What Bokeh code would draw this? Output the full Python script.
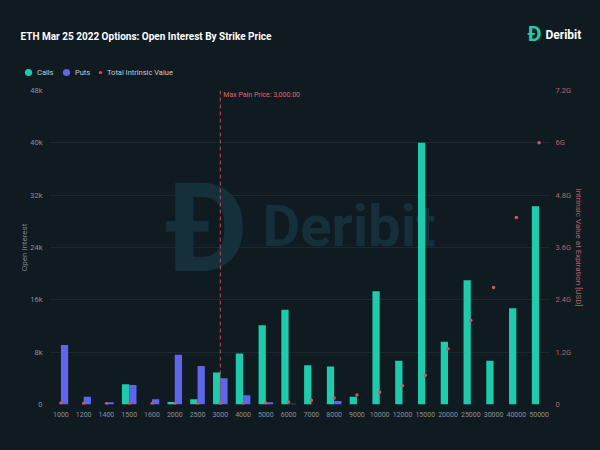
from bokeh.plotting import figure
from bokeh.layouts import column
from bokeh.models import (ColumnDataSource, Range1d, LinearAxis, FixedTicker, Span,
                          Label, Legend, LegendItem, FactorRange)
from bokeh.transform import dodge
from bokeh.embed import file_html
from bokeh.resources import INLINE

# ---------------- data ----------------
strikes = ["1000", "1200", "1400", "1500", "1600", "2000", "2500", "3000", "4000", "5000", "6000",
           "7000", "8000", "9000", "10000", "12000", "15000", "20000", "25000", "30000", "40000", "50000"]
calls = [0, 0, 0, 3100, 0, 400, 800, 4900, 7800, 12100, 14500,
         6000, 5800, 1200, 17300, 6700, 40000, 9600, 19000, 6700, 14700, 30300]
puts = [9100, 1200, 350, 3000, 800, 7600, 5900, 4000, 1400, 350, 100,
        0, 550, 0, 0, 0, 0, 0, 0, 0, 0, 0]
intrinsic_g = [0.033, 0.025, 0.02, 0.018, 0.016, 0.012, 0.01, 0.01, 0.02, 0.035, 0.06,
               0.1, 0.15, 0.22, 0.28, 0.43, 0.67, 1.28, 1.93, 2.68, 4.29, 6.0]
max_pain = "3000"
left_ticks = [0, 8000, 16000, 24000, 32000, 40000, 48000]
left_tick_labels = ["0", "8k", "16k", "24k", "32k", "40k", "48k"]
right_ticks = [0, 1.2e9, 2.4e9, 3.6e9, 4.8e9, 6.0e9, 7.2e9]
right_tick_labels = ["0", "1.2G", "2.4G", "3.6G", "4.8G", "6G", "7.2G"]

# ---------------- style ----------------
BG = "#0f1a21"
CALL = "#1fcbad"
PUT = "#5f66ea"
RED = "#d9535d"
GRID = "#1a2831"
TICK = "#8a9399"
RTICK = "#b8646b"
FONT = "Roboto"
NAN = float("nan")

src = ColumnDataSource(dict(strike=strikes, calls=calls, puts=puts,
                            iv=[v * 1e9 for v in intrinsic_g]))

# ---------------- header (title, legend, logo) ----------------
h = figure(width=600, height=82, x_range=Range1d(0, 600), y_range=Range1d(0, 82),
           output_backend="svg", toolbar_location=None, x_axis_type=None, y_axis_type=None,
           background_fill_color=BG, border_fill_color=BG, outline_line_color=None,
           min_border=0, frame_align=False)
h.grid.visible = False
h.add_layout(Label(x=20, y=46, x_units="screen", y_units="screen",
                   text="ETH Mar 25 2022 Options: Open Interest By Strike Price",
                   text_font=FONT, text_font_style="bold", text_font_size="10px",
                   text_color="#ffffff", text_baseline="middle"))
h.add_layout(Label(x=527, y=49, x_units="screen", y_units="screen", text="Ð",
                   text_font=FONT, text_font_style="bold", text_font_size="21px",
                   text_color=CALL, text_baseline="middle"))
h.add_layout(Label(x=545, y=48, x_units="screen", y_units="screen", text="Deribit",
                   text_font=FONT, text_font_style="bold", text_font_size="12px",
                   text_color="#ffffff", text_baseline="middle"))

lc = h.scatter(x=[NAN], y=[NAN], marker="circle", color=CALL, line_color=None)
lp = h.scatter(x=[NAN], y=[NAN], marker="circle", color=PUT, line_color=None)
li = h.scatter(x=[NAN], y=[NAN], marker="circle", color=RED, line_color=None)
leg1 = Legend(items=[LegendItem(label="Calls", renderers=[lc]), LegendItem(label="Puts", renderers=[lp])],
              location=(19, 1), orientation="horizontal", background_fill_alpha=0,
              border_line_color=None, label_text_color="#c9cdd1", label_text_font=FONT,
              label_text_font_size="7.5px", glyph_width=18, glyph_height=18, label_height=18,
              label_standoff=-2, spacing=0, padding=0, margin=0)
leg2 = Legend(items=[LegendItem(label="Total Intrinsic Value", renderers=[li])],
              location=(96, 1), orientation="horizontal", background_fill_alpha=0,
              border_line_color=None, label_text_color="#c9cdd1", label_text_font=FONT,
              label_text_font_size="7.5px", glyph_width=8, glyph_height=18, label_height=18,
              label_standoff=3, padding=0, margin=0)
h.add_layout(leg1, "center")
h.add_layout(leg2, "center")

# ---------------- main chart ----------------
p = figure(width=600, height=368, x_range=FactorRange(*strikes), y_range=Range1d(0, 48000),
           output_backend="svg", toolbar_location=None,
           background_fill_color=BG, border_fill_color=BG, outline_line_color=None,
           min_border_left=49, min_border_right=50, min_border_top=8, min_border_bottom=46,
           frame_align=False)
p.extra_y_ranges = {"iv": Range1d(0, 7.2e9)}

# watermark
p.add_layout(Label(x=116, y=176, x_units="screen", y_units="screen", text="Ð",
                   text_font=FONT, text_font_style="bold", text_font_size="124px",
                   text_color="#15303a", text_baseline="middle", level="underlay"))
p.add_layout(Label(x=213, y=179, x_units="screen", y_units="screen", text="Deribit",
                   text_font=FONT, text_font_style="bold", text_font_size="58px",
                   text_color="#15303a", text_baseline="middle", level="underlay"))

p.vbar(x=dodge("strike", -0.16, range=p.x_range), top="calls", width=0.32, source=src,
       color=CALL, line_color=None)
p.vbar(x=dodge("strike", 0.16, range=p.x_range), top="puts", width=0.32, source=src,
       color=PUT, line_color=None)
p.scatter(x="strike", y="iv", y_range_name="iv", source=src, size=3.5, color=RED, line_color=None)

# axes
p.xaxis.axis_line_color = None
p.xaxis.major_tick_line_color = None
p.xaxis.major_tick_out = 0
p.xaxis.major_label_text_color = TICK
p.xaxis.major_label_text_font = FONT
p.xaxis.major_label_text_font_size = "7px"
p.xaxis.major_label_standoff = 7
p.xgrid.grid_line_color = None

p.yaxis.ticker = FixedTicker(ticks=left_ticks)
p.yaxis.major_label_overrides = dict(zip(left_ticks, left_tick_labels))
p.yaxis.axis_line_color = None
p.yaxis.major_tick_line_color = None
p.yaxis.minor_tick_line_color = None
p.yaxis.major_tick_out = 0
p.yaxis.minor_tick_out = 0
p.yaxis.major_label_text_color = TICK
p.yaxis.major_label_text_font = FONT
p.yaxis.major_label_text_font_size = "7.5px"
p.yaxis.major_label_standoff = 7
p.yaxis.axis_label = "Open Interest"
p.yaxis.axis_label_text_color = "#7d868c"
p.yaxis.axis_label_text_font = FONT
p.yaxis.axis_label_text_font_style = "normal"
p.yaxis.axis_label_text_font_size = "8px"
p.yaxis.axis_label_standoff = -2
p.ygrid.grid_line_color = GRID
p.ygrid.ticker = FixedTicker(ticks=left_ticks)

raxis = LinearAxis(y_range_name="iv", ticker=FixedTicker(ticks=right_ticks),
                   major_label_overrides=dict(zip(right_ticks, right_tick_labels)),
                   axis_line_color=None, major_tick_line_color=None, minor_tick_line_color=None,
                   major_tick_out=0, minor_tick_out=0,
                   major_label_text_color=RTICK, major_label_text_font=FONT,
                   major_label_text_font_size="7.5px", major_label_standoff=5,
                   axis_label="Intrinsic Value at Expiration [USD]", axis_label_text_color=RTICK,
                   axis_label_text_font=FONT, axis_label_text_font_style="normal",
                   axis_label_text_font_size="8px", axis_label_standoff=0)
p.add_layout(raxis, "right")

# max pain
mp_x = strikes.index(max_pain) + 0.5
p.add_layout(Span(location=mp_x, dimension="height", line_color="#b9505a",
                  line_dash="4 3", line_width=1))
p.add_layout(Label(x=mp_x, y=310, y_units="screen", x_offset=3,
                   text=f"Max Pain Price: {float(max_pain):,.2f}", text_font=FONT,
                   text_font_size="7px", text_color="#e0636c", text_baseline="middle"))

page = column(h, p, spacing=0)
html = file_html(page, INLINE).replace("<body>", f'<body style="background-color:{BG};">')
open("out.html", "w").write(html)
